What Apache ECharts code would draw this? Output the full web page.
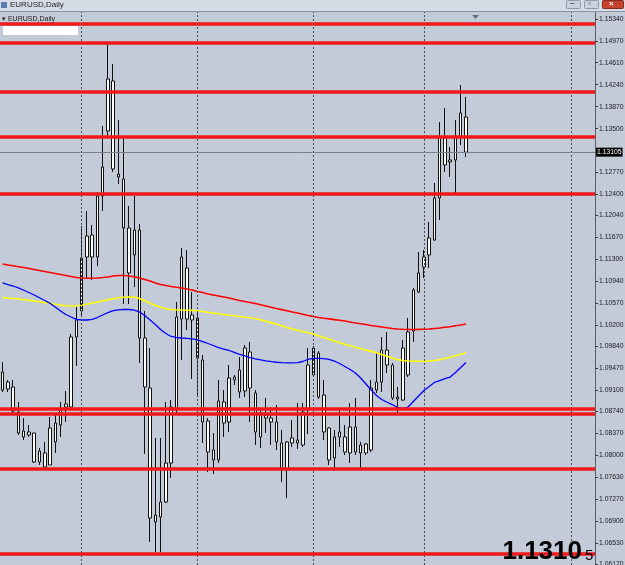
<!DOCTYPE html>
<html><head><meta charset="utf-8">
<script src="https://cdn.jsdelivr.net/npm/echarts@6/dist/echarts.min.js"></script>
<style>html,body{margin:0;padding:0;background:#c3cad8;overflow:hidden}#c{width:625px;height:565px}</style>
</head><body><div id="c"></div>
<script>
// ---- data (EURUSD daily, prices) ----
const barSlots = 113; // bars + empty right shift
const opens = [1.09406,1.09120,1.09154,1.08733,1.08414,1.08346,1.08380,1.07892,1.08044,1.07842,
1.08548,1.08515,1.08817,1.08817,1.09995,1.10433,1.11341,1.11711,1.11341,1.12367,
1.13461,1.14302,1.12737,1.12653,1.11829,1.11375,1.11795,1.09978,1.09137,1.06883,
1.06967,1.07219,1.07875,1.08767,1.10298,1.11156,1.10281,1.10315,1.09608,1.08582,
1.08094,1.07926,1.08902,1.08565,1.09272,1.09440,1.09087,1.09743,1.09053,1.08313,
1.08683,1.08632,1.08565,1.08212,1.07774,1.08212,1.08262,1.08178,1.08767,1.09356,
1.09726,1.09019,1.08464,1.07959,1.08313,1.08313,1.08044,1.08481,1.08044,1.08195,
1.08094,1.09103,1.09238,1.09776,1.09524,1.08986,1.08935,1.09356,1.10096,1.10752,
1.11173,1.11375,1.11627,1.12334,1.13343,1.12939,1.12973,1.13360,1.13696];
const closes = [1.09103,1.09238,1.08750,1.08380,1.08313,1.08397,1.07892,1.08077,1.07808,1.08464,
1.08229,1.08801,1.08868,1.09995,1.10281,1.11324,1.11694,1.11341,1.12367,1.12855,
1.14336,1.12822,1.12687,1.11829,1.11072,1.11795,1.09978,1.09154,1.06950,1.07001,
1.07219,1.07875,1.08817,1.10332,1.11341,1.10298,1.10365,1.09642,1.08565,1.08060,
1.07926,1.08918,1.08548,1.09305,1.09322,1.09070,1.09810,1.09137,1.08397,1.08717,
1.08632,1.08565,1.08229,1.07774,1.08229,1.08296,1.08212,1.08733,1.09524,1.09810,
1.08986,1.08397,1.07926,1.08313,1.08397,1.08060,1.08481,1.08060,1.08178,1.08044,
1.09137,1.09238,1.09776,1.09524,1.08969,1.08952,1.09810,1.10079,1.10786,1.11072,
1.11341,1.11661,1.12334,1.13343,1.12889,1.12973,1.13360,1.13764,1.13105];
const lows = [1.09070,1.09070,1.08683,1.08346,1.08262,1.08313,1.07876,1.07842,1.07791,1.07842,
1.08044,1.08313,1.08565,1.08767,1.09507,1.10348,1.10988,1.10954,1.11190,1.12115,
1.13343,1.12771,1.12569,1.10550,1.10550,1.10836,1.09558,1.08027,1.06546,1.06378,
1.06378,1.07202,1.07623,1.08717,1.09608,1.10113,1.09289,1.09019,1.08212,1.07724,
1.07690,1.07875,1.08313,1.08397,1.09188,1.08969,1.08986,1.08565,1.08178,1.08128,
1.08380,1.08178,1.08094,1.07556,1.07287,1.08145,1.08111,1.08145,1.08363,1.09322,
1.08952,1.08262,1.07842,1.07741,1.08145,1.08010,1.07875,1.08010,1.07758,1.08010,
1.08060,1.09053,1.09070,1.09389,1.08935,1.08717,1.08918,1.09322,1.09911,1.10735,
1.10988,1.11156,1.11611,1.11964,1.12771,1.12687,1.12418,1.13225,1.13024];
const highs = [1.09575,1.09272,1.09272,1.08902,1.08632,1.08515,1.08380,1.08128,1.08229,1.08649,
1.08717,1.08902,1.09087,1.10046,1.10500,1.11863,1.12115,1.11879,1.12435,1.13545,
1.14941,1.14588,1.13646,1.13343,1.12199,1.12367,1.11896,1.10433,1.09810,1.08296,
1.08296,1.08902,1.08935,1.10584,1.11492,1.11459,1.10752,1.10399,1.09692,1.08632,
1.08380,1.09272,1.09103,1.09524,1.09356,1.09659,1.09861,1.09911,1.09103,1.08784,
1.08969,1.08817,1.08851,1.08431,1.08245,1.08599,1.08885,1.08885,1.09810,1.09844,
1.09760,1.09272,1.08481,1.08431,1.08767,1.08515,1.08885,1.08969,1.08229,1.08212,
1.09272,1.09743,1.09995,1.10079,1.09558,1.09154,1.09945,1.10315,1.10819,1.11425,
1.11459,1.11930,1.12586,1.13612,1.13848,1.13192,1.13646,1.14235,1.14033];
// moving averages
const maSlow = [1.11223,1.11206,1.11193,1.11178,1.11163,1.11148,1.11131,1.11114,1.11097,1.11080,
1.11063,1.11047,1.11030,1.11013,1.10996,1.10988,1.10983,1.10983,1.10988,1.10996,
1.11005,1.11021,1.11030,1.11030,1.11021,1.11010,1.10988,1.10963,1.10937,1.10904,
1.10878,1.10862,1.10845,1.10831,1.10820,1.10803,1.10786,1.10761,1.10744,1.10719,
1.10702,1.10685,1.10668,1.10651,1.10629,1.10609,1.10592,1.10576,1.10559,1.10537,
1.10517,1.10497,1.10476,1.10456,1.10436,1.10416,1.10399,1.10377,1.10357,1.10340,
1.10323,1.10311,1.10300,1.10288,1.10276,1.10264,1.10247,1.10231,1.10217,1.10204,
1.10189,1.10175,1.10163,1.10150,1.10138,1.10130,1.10125,1.10121,1.10121,1.10123,
1.10125,1.10130,1.10138,1.10146,1.10158,1.10168,1.10183,1.10197,1.10214];
const maMid = [1.10660,1.10651,1.10643,1.10634,1.10623,1.10613,1.10601,1.10587,1.10574,1.10562,
1.10547,1.10533,1.10520,1.10517,1.10520,1.10530,1.10545,1.10567,1.10584,1.10604,
1.10623,1.10640,1.10655,1.10663,1.10668,1.10665,1.10643,1.10604,1.10562,1.10525,
1.10495,1.10470,1.10458,1.10453,1.10449,1.10446,1.10443,1.10438,1.10424,1.10411,
1.10399,1.10385,1.10374,1.10362,1.10352,1.10340,1.10328,1.10318,1.10306,1.10284,
1.10261,1.10237,1.10210,1.10184,1.10155,1.10130,1.10108,1.10088,1.10066,1.10046,
1.10015,1.09987,1.09956,1.09928,1.09899,1.09872,1.09847,1.09822,1.09798,1.09776,
1.09753,1.09729,1.09701,1.09672,1.09642,1.09615,1.09600,1.09591,1.09588,1.09588,
1.09588,1.09591,1.09600,1.09612,1.09633,1.09654,1.09679,1.09704,1.09731];
const maFast = [1.10904,1.10878,1.10853,1.10820,1.10782,1.10744,1.10702,1.10655,1.10609,1.10562,
1.10500,1.10433,1.10374,1.10332,1.10293,1.10281,1.10281,1.10293,1.10323,1.10365,
1.10407,1.10438,1.10453,1.10461,1.10458,1.10446,1.10416,1.10357,1.10281,1.10205,
1.10121,1.10054,1.10004,1.09987,1.09978,1.09973,1.09962,1.09948,1.09919,1.09886,
1.09852,1.09818,1.09793,1.09768,1.09738,1.09701,1.09676,1.09650,1.09628,1.09611,
1.09595,1.09580,1.09570,1.09563,1.09561,1.09561,1.09563,1.09583,1.09617,1.09637,
1.09637,1.09630,1.09620,1.09591,1.09549,1.09499,1.09448,1.09389,1.09305,1.09204,
1.09103,1.09011,1.08944,1.08897,1.08859,1.08809,1.08792,1.08817,1.08910,1.09003,
1.09095,1.09162,1.09230,1.09263,1.09294,1.09322,1.09398,1.09482,1.09566];
// horizontal support / resistance levels
const levels = [1.15261,1.14953,1.14122,1.13365,1.12413,1.08796,1.08711,1.07786,1.06356];
// right price scale labels
const yTicks = [1.06170,1.06530,1.06900,1.07270,1.07630,1.08000,1.08370,1.08740,1.09100,1.09470,
1.09840,1.10200,1.10570,1.10940,1.11300,1.11670,1.12040,1.12400,1.12770,1.13500,
1.13870,1.14240,1.14610,1.14970,1.15340];
const periodSeparators = [15,37,59,80,108]; // bar indices of vertical grid lines
const lastPrice = 1.13105;
const symbolTitle = 'EURUSD,Daily';

// ---- build ----
const categories = Array.from({length: barSlots}, (_, i) => 'D' + (i + 1));
const candles = opens.map((o, i) => [o, closes[i], lows[i], highs[i]]);
const chart = echarts.init(document.getElementById('c'), null, {renderer: 'canvas'});
const font = 'Liberation Sans';
const noSym = ['none', 'none'];

chart.setOption({
  animation: false,
  backgroundColor: '#c3cad8',
  grid: {left: 0, top: 12, width: 595, height: 553, containLabel: false, outerBoundsMode: 'none'},
  xAxis: {
    type: 'category', data: categories, boundaryGap: true,
    axisLine: {show: false}, axisTick: {show: false}, axisLabel: {show: false}, splitLine: {show: false}
  },
  yAxis: {
    type: 'value', position: 'right', min: 1.061593, max: 1.154628, scale: true,
    axisLine: {show: true, lineStyle: {color: '#5a5f6a', width: 1}},
    axisTick: {show: true, length: 3, inside: false, customValues: yTicks, lineStyle: {color: '#3a3a3a'}},
    axisLabel: {show: true, customValues: yTicks, fontFamily: font, fontSize: 6.8, color: '#1a1a1a', margin: 4,
      formatter: v => v.toFixed(5)},
    splitLine: {show: false}
  },
  series: [
    {
      type: 'line', data: [], z: 1, silent: true,
      markLine: {silent: true, symbol: noSym, label: {show: false}, animation: false,
        lineStyle: {color: '#4a4a55', type: [2, 2], width: 1},
        data: periodSeparators.map(i => ({xAxis: categories[i]}))}
    },
    {
      type: 'candlestick', data: candles, z: 2, barWidth: 3,
      itemStyle: {color: '#ffffff', color0: '#ffffff', borderColor: '#111111', borderColor0: '#111111', borderWidth: 1}
    },
    {type: 'line', data: maSlow, z: 3, showSymbol: false, lineStyle: {color: '#ff0000', width: 1.6}},
    {type: 'line', data: maMid, z: 3, showSymbol: false, lineStyle: {color: '#ffff00', width: 1.6}},
    {type: 'line', data: maFast, z: 3, showSymbol: false, lineStyle: {color: '#0000ff', width: 1.3}},
    {
      type: 'line', data: [], z: 4, silent: true,
      markLine: {silent: true, symbol: noSym, animation: false, precision: 5,
        data: [
          {yAxis: lastPrice, lineStyle: {color: '#7c7f88', width: 1, type: 'solid'},
            label: {show: true, position: 'end', distance: 1, formatter: lastPrice.toFixed(5),
              color: '#ffffff', backgroundColor: '#000000', fontFamily: font, fontSize: 6.8, padding: [1, 1]}}
        ]}
    },
    {
      type: 'line', data: [], z: 5, silent: true,
      markLine: {silent: true, symbol: noSym, label: {show: false}, animation: false, precision: 5,
        lineStyle: {color: '#f01818', width: 3.5, type: 'solid'},
        data: levels.map(v => ({yAxis: v}))}
    }
  ],
  graphic: [
    {type: 'rect', left: 0, top: 0, shape: {width: 625, height: 11}, style: {fill: '#d6dce6'}, z: 10},
    {type: 'rect', left: 0, top: 11, shape: {width: 625, height: 1}, style: {fill: '#8d939e'}, z: 10},
    {type: 'rect', left: 1, top: 2, shape: {width: 6, height: 6}, style: {fill: '#5b7fb5'}, z: 11},
    {type: 'text', left: 10, top: 1, style: {text: symbolTitle, font: '8px ' + font, fill: '#1a1a1a'}, z: 11},
    {type: 'rect', left: 566, top: 0, shape: {width: 14, height: 8, r: 1}, style: {fill: '#c9d1de', stroke: '#8f98a8'}, z: 11},
    {type: 'rect', left: 584, top: 0, shape: {width: 14, height: 8, r: 1}, style: {fill: '#c9d1de', stroke: '#8f98a8'}, z: 11},
    {type: 'rect', left: 602, top: 0, shape: {width: 21, height: 8, r: 1}, style: {fill: '#c8432f', stroke: '#8a2a1e'}, z: 11},
    {type: 'text', left: 570, top: -1, style: {text: '–', font: 'bold 8px ' + font, fill: '#333'}, z: 12},
    {type: 'text', left: 588, top: 0, style: {text: '▫', font: '8px ' + font, fill: '#333'}, z: 12},
    {type: 'text', left: 609, top: 0, style: {text: '×', font: 'bold 8px ' + font, fill: '#fff'}, z: 12},
    {type: 'text', left: 2, top: 16, style: {text: '▾ ' + symbolTitle, font: '7px ' + font, fill: '#222'}, z: 11},
    {type: 'rect', left: 3, top: 26, shape: {width: 75, height: 9}, style: {fill: '#ffffff'}, z: 11},
    {type: 'polygon', shape: {points: [[472, 15], [479, 15], [475.5, 19]]}, style: {fill: '#6a6f7a'}, z: 11},
    {type: 'text', right: 43, bottom: 0, style: {text: '1.1310', font: 'bold 26px ' + font, fill: '#000'}, z: 11},
    {type: 'text', left: 585, bottom: 2, style: {text: '5', font: '15px ' + font, fill: '#000'}, z: 11}
  ]
});
</script>
</body></html>
